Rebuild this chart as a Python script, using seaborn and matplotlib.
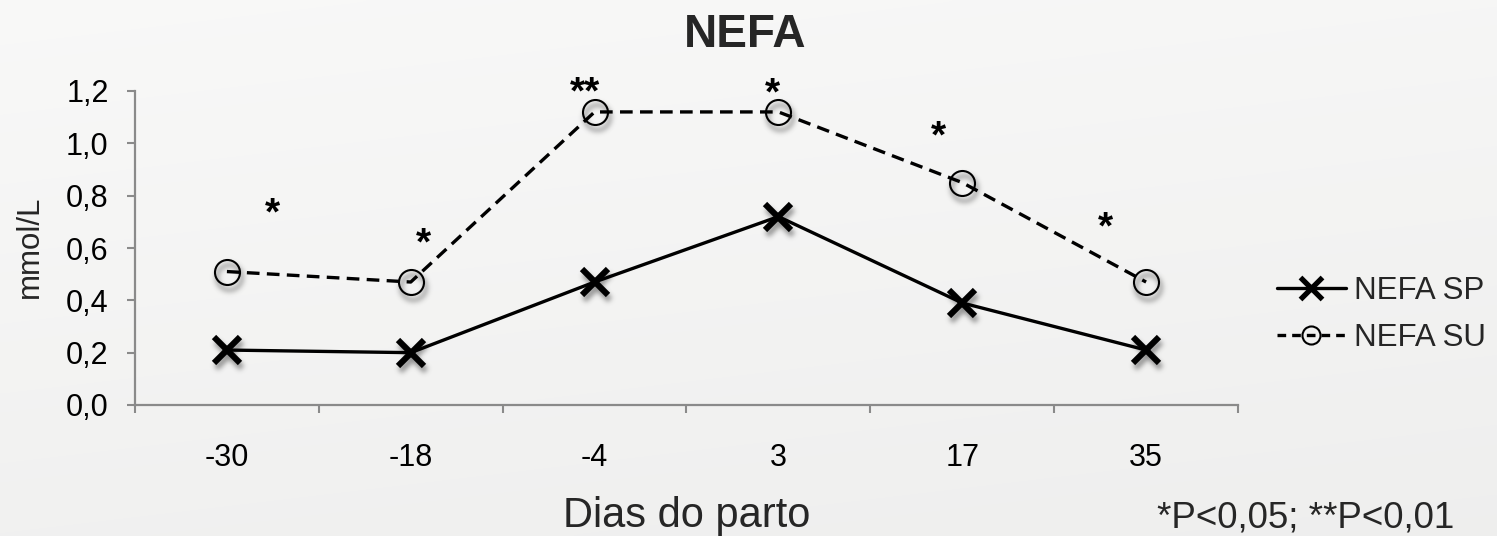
import numpy as np
import pandas as pd
import matplotlib
matplotlib.use("Agg")
import matplotlib.pyplot as plt
from matplotlib.lines import Line2D
import seaborn as sns

# ---- data -------------------------------------------------------------
days = ["-30", "-18", "-4", "3", "17", "35"]
nefa_sp = [0.21, 0.20, 0.47, 0.72, 0.39, 0.21]
nefa_su = [0.51, 0.47, 1.12, 1.12, 0.85, 0.47]
sig_labels = ["*", "*", "**", "*", "*", "*"]
series_names = ["NEFA SP", "NEFA SU"]
y_ticks = [0.0, 0.2, 0.4, 0.6, 0.8, 1.0, 1.2]
y_tick_labels = ["0,0", "0,2", "0,4", "0,6", "0,8", "1,0", "1,2"]

title = "NEFA"
x_label = "Dias do parto"
y_label = "mmol/L"
note = "*P<0,05; **P<0,01"

df = pd.DataFrame({
    "dia": days * 2,
    "nefa": nefa_sp + nefa_su,
    "grupo": [series_names[0]] * len(days) + [series_names[1]] * len(days),
})

# ---- style ------------------------------------------------------------
sns.set_style("white")
plt.rcParams["font.family"] = ["Liberation Sans", "DejaVu Sans"]
AXIS_GREY = "#8a8a8a"

W, H = 1497, 536
fig = plt.figure(figsize=(W / 100, H / 100), dpi=100)


def px(x, y):
    """Pixel position (from top-left) to figure fraction."""
    return x / W, 1 - y / H


# soft grey backdrop
bg = fig.add_axes([0, 0, 1, 1], zorder=-10)
yy, xx = np.mgrid[0:1:200j, 0:1:400j]
shade = 0.975 - 0.030 * yy - 0.010 * xx
bg.imshow(np.dstack([shade, shade, shade * 0.997]), aspect="auto",
          extent=(0, 1, 0, 1), interpolation="bicubic")
bg.set_axis_off()

x0, y0 = px(135, 405)
x1, y1 = px(1238, 91)
ax = fig.add_axes([x0, y0, x1 - x0, y1 - y0])
ax.set_facecolor("none")


# blurred drop shadow for the markers
def drop_shadow(offset=(2, -5), sigma=2.5, alpha=0.55, color=(0.25, 0.25, 0.25)):
    def _filter(img, dpi):
        pad = int(3 * sigma + max(abs(offset[0]), abs(offset[1]))) + 2
        a = np.pad(img[..., 3], pad, mode="constant")
        r = int(3 * sigma)
        k = np.exp(-0.5 * (np.arange(-r, r + 1) / sigma) ** 2)
        k /= k.sum()
        a = np.apply_along_axis(lambda v: np.convolve(v, k, mode="same"), 0, a)
        a = np.apply_along_axis(lambda v: np.convolve(v, k, mode="same"), 1, a)
        a = np.roll(a, offset[0], axis=1)
        a = np.roll(a, -offset[1], axis=0)
        out = np.zeros(a.shape + (4,))
        out[..., 0], out[..., 1], out[..., 2] = color
        out[..., 3] = np.clip(a * alpha, 0, 1)
        return out, -pad, -pad
    return _filter


sp = df[df["grupo"] == series_names[0]]
su = df[df["grupo"] == series_names[1]]

sns.lineplot(data=sp, x="dia", y="nefa", ax=ax, sort=False, estimator=None,
             color="black", linewidth=2.4, linestyle="-",
             marker="x", markersize=19, markeredgewidth=4.4,
             markeredgecolor="black", zorder=4)
sns.lineplot(data=su, x="dia", y="nefa", ax=ax, sort=False, estimator=None,
             color="black", linewidth=2.4, dashes=(3.8, 2.2),
             marker="o", markersize=18, markeredgewidth=1.5,
             markeredgecolor="black", markerfacecolor="none", zorder=4)

# shadows beneath the markers
xpos = np.arange(len(days))
sh1, = ax.plot(xpos, nefa_sp, linestyle="none", marker="x", markersize=19,
               markeredgewidth=4.4, color="black", zorder=2)
sh2, = ax.plot(xpos, nefa_su, linestyle="none", marker="o", markersize=18,
               markeredgewidth=3.0, markerfacecolor="none",
               markeredgecolor="black", zorder=2)
sh1.set_agg_filter(drop_shadow())
sh2.set_agg_filter(drop_shadow(alpha=0.45))

# significance marks
sig_x = [0.25, 1.07, 1.95, 2.97, 3.87, 4.78]
sig_y = [0.757, 0.642, 1.219, 1.216, 1.051, 0.703]
for sx, sy, lab in zip(sig_x, sig_y, sig_labels):
    ax.annotate(lab, (sx, sy), xytext=(0, -12.5), textcoords="offset points",
                ha="center", va="baseline", fontsize=28, fontweight="bold",
                color="black", annotation_clip=False)

# axes
ax.set_xlim(-0.5, len(days) - 0.5)
ax.set_ylim(0, 1.2)
ax.set_yticks(y_ticks)
ax.set_yticklabels(y_tick_labels)
ax.set_xticks(xpos)
ax.set_xticklabels(days)
ax.set_xticks(np.arange(-0.5, len(days)), minor=True)
ax.tick_params(axis="x", which="major", length=0, pad=27, labelsize=22,
               labelcolor="black")
ax.tick_params(axis="x", which="minor", length=6, width=1.5,
               color=AXIS_GREY, direction="out", bottom=True)
ax.tick_params(axis="y", which="major", length=6, width=1.5,
               color=AXIS_GREY, direction="out", left=True, pad=13,
               labelsize=22, labelcolor="black")
for side in ("top", "right"):
    ax.spines[side].set_visible(False)
for side in ("left", "bottom"):
    ax.spines[side].set_color(AXIS_GREY)
    ax.spines[side].set_linewidth(1.6)
ax.grid(False)

ax.set_xlabel("")
ax.set_ylabel("")

# texts
fig.text(*px(745, 47), title, ha="center", va="baseline",
         fontsize=33, fontweight="bold")
fig.text(*px(687, 527), x_label, ha="center", va="baseline", fontsize=30)
fig.text(*px(30, 247), y_label, ha="center", va="center", rotation=90,
         fontsize=22.5)
fig.text(*px(1306, 527), note, ha="center", va="baseline", fontsize=26.5)

# legend
handles = [
    Line2D([], [], color="black", linewidth=2.4, marker="x", markersize=16,
           markeredgewidth=3.8),
    Line2D([], [], color="black", linewidth=2.4, linestyle=(0, (2.6, 1.8)),
           marker="o", markersize=13, markeredgewidth=1.5,
           markerfacecolor="none"),
]
fig.legend(handles, series_names, loc="center left",
           bbox_to_anchor=px(1277, 314.5), frameon=False, fontsize=22.5,
           handlelength=2.2, handletextpad=0.25, labelspacing=0.55,
           borderpad=0, borderaxespad=0)

fig.savefig("out.png", dpi=100)
